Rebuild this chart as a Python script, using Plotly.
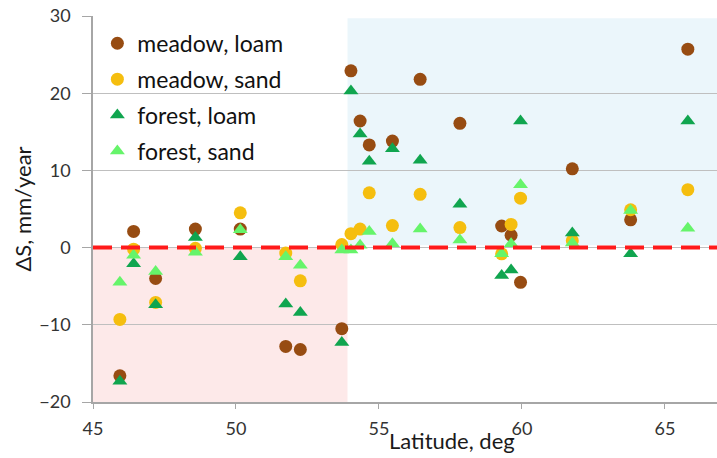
import plotly.graph_objects as go

# Site latitudes (deg) and annual storage change ΔS (mm/year) per land cover / soil
latitude = [45.94, 46.42, 47.19, 48.58, 50.15, 51.74, 52.25, 53.70, 54.02, 54.34,
            54.66, 55.47, 56.44, 57.83, 59.29, 59.62, 59.95, 61.76, 63.80, 65.80]
meadow_loam = [-16.6, 2.1, -4.0, 2.4, 2.4, -12.8, -13.2, -10.5, 22.9, 16.4,
               13.3, 13.8, 21.8, 16.1, 2.8, 1.6, -4.5, 10.2, 3.6, 25.7]
meadow_sand = [-9.3, -0.2, -7.1, -0.1, 4.5, -0.7, -4.3, 0.4, 1.8, 2.4,
               7.1, 2.85, 6.9, 2.6, -0.8, 3.0, 6.4, 0.9, 4.9, 7.5]
forest_loam = [-17.3, -2.1, -7.4, 1.3, -1.2, -7.3, -8.4, -12.3, 20.3, 14.7,
               11.2, 12.8, 11.3, 5.6, -3.6, -2.9, 16.4, 1.9, -0.8, 16.4]
forest_sand = [-4.5, -1.0, -3.1, -0.6, 2.3, -1.2, -2.3, -0.3, -0.3, 0.3,
               2.1, 0.5, 2.4, 1.0, -0.8, 0.5, 8.15, 0.6, 4.8, 2.5]

series_names = ["meadow, loam", "meadow, sand", "forest, loam", "forest, sand"]
series_values = [meadow_loam, meadow_sand, forest_loam, forest_sand]
series_colors = ["#974C12", "#F5BE0F", "#10A54F", "#66F46A"]
series_symbols = ["circle", "circle", "triangle-up", "triangle-up"]

x_range = [45, 66.82]
y_range = [-20, 30]
boundary_lat = 53.9

FONT = "Lato"

fig = go.Figure()

for name, vals, col, sym in zip(series_names, series_values, series_colors, series_symbols):
    fig.add_trace(go.Scatter(
        x=latitude, y=vals, mode="markers", name=name, legendgroup=name,
        marker=dict(symbol=sym, size=13, color=col, line=dict(width=0)),
    ))

# zero reference line
fig.add_trace(go.Scatter(
    x=x_range, y=[0, 0], mode="lines", showlegend=False, hoverinfo="skip",
    line=dict(color="#FF1A1A", width=4, dash="19px,9px"),
))

# shaded regions: south (deficit) and north (surplus)
fig.add_shape(type="rect", xref="x", yref="y", x0=x_range[0], x1=boundary_lat,
              y0=y_range[0], y1=0, fillcolor="#FDE9E9", line_width=0, layer="below")
fig.add_shape(type="rect", xref="x", yref="y", x0=boundary_lat, x1=x_range[1],
              y0=0.3, y1=29.7, fillcolor="#EBF6FB", line_width=0, layer="below")

# x-axis title, placed below the tick labels
fig.add_annotation(text="Latitude, deg", xref="paper", yref="paper",
                   x=(452 - 93) / (717 - 93), y=-(441 - 402) / (402 - 16),
                   yanchor="middle", showarrow=False,
                   font=dict(family=FONT, size=22, color="#1a1a1a"))

fig.update_layout(
    width=717, height=458,
    margin=dict(l=93, r=0, t=16, b=56),
    paper_bgcolor="white", plot_bgcolor="white",
    font=dict(family=FONT, color="#333333"),
    legend=dict(x=0.007, y=0.985, xanchor="left", yanchor="top",
                bgcolor="rgba(0,0,0,0)", font=dict(family=FONT, size=23, color="#111111"),
                tracegroupgap=3, itemwidth=30),
    showlegend=True,
)

fig.update_xaxes(
    range=x_range, tickvals=[45, 50, 55, 60, 65], ticks="outside", ticklen=5,
    tickcolor="#A6A6A6", showgrid=False, showline=True, linecolor="#A6A6A6",
    linewidth=1.5, tickfont=dict(family=FONT, size=18, color="#333333"), zeroline=False,
    ticklabelstandoff=5,
)
fig.update_yaxes(
    range=y_range, tickvals=[-20, -10, 0, 10, 20, 30], ticks="outside", ticklen=9,
    tickcolor="#A6A6A6", showgrid=True, gridcolor="#BFBFBF", gridwidth=1.2,
    showline=True, linecolor="#A6A6A6", linewidth=1.5, zeroline=False,
    tickfont=dict(family=FONT, size=18, color="#333333"), ticklabelstandoff=8,
    title=dict(text="ΔS, mm/year", font=dict(family=FONT, size=22, color="#1a1a1a"), standoff=2),
)

fig.write_html("out.html")
